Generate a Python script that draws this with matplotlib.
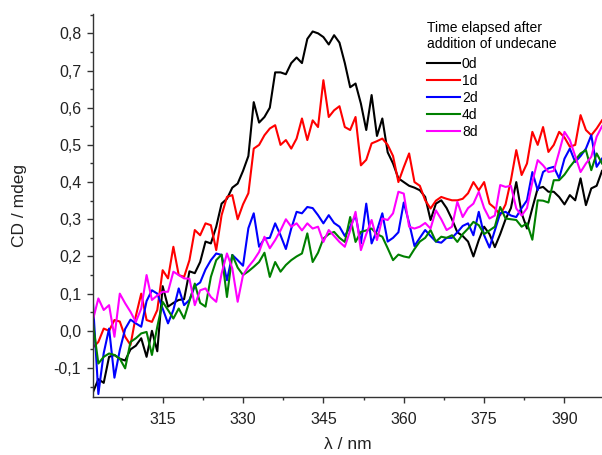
"""
CD spectra of the sample after addition of undecane, at several elapsed times.
"""

import numpy as np
import matplotlib.pyplot as plt
from matplotlib.ticker import MultipleLocator, FuncFormatter

# wavelength grid (nm), one point per nm
wavelength = np.arange(302, 398)

cd_0d = [
    -0.165, -0.13, -0.14, -0.07, -0.065, -0.075, -0.08, -0.05, -0.04, -0.02,
    -0.07, 0.0, -0.055, 0.12, 0.065, 0.075, 0.083, 0.085, 0.16, 0.155,
    0.185, 0.24, 0.235, 0.28, 0.342, 0.355, 0.385, 0.396, 0.43, 0.47,
    0.615, 0.56, 0.575, 0.6, 0.695, 0.695, 0.69, 0.72, 0.735, 0.72,
    0.785, 0.805, 0.80, 0.79, 0.77, 0.795, 0.775, 0.72, 0.655, 0.665,
    0.611, 0.54, 0.634, 0.524, 0.571, 0.48, 0.45, 0.41, 0.40, 0.39,
    0.385, 0.378, 0.36, 0.298, 0.342, 0.351, 0.33, 0.30, 0.265, 0.255,
    0.24, 0.2, 0.244, 0.28, 0.26, 0.225, 0.26, 0.3, 0.33, 0.4,
    0.316, 0.275, 0.33, 0.383, 0.387, 0.374, 0.374, 0.36, 0.34, 0.365,
    0.351, 0.41, 0.338, 0.383, 0.39, 0.43,
]
cd_1d = [
    -0.045, -0.03, 0.006, 0.0, 0.029, 0.025, -0.016, -0.038, 0.04, 0.1,
    0.029, 0.024, 0.056, 0.163, 0.141, 0.226, 0.15, 0.145, 0.19, 0.271,
    0.257, 0.289, 0.284, 0.217, 0.311, 0.36, 0.365, 0.30, 0.34, 0.37,
    0.49, 0.5, 0.526, 0.544, 0.553, 0.5, 0.513, 0.49, 0.517, 0.571,
    0.513, 0.566, 0.548, 0.674, 0.575, 0.593, 0.604, 0.548, 0.54, 0.575,
    0.445, 0.46, 0.504, 0.51, 0.517, 0.5, 0.47, 0.4, 0.44, 0.477,
    0.4, 0.39, 0.351, 0.329, 0.35, 0.36, 0.355, 0.351, 0.351, 0.355,
    0.37, 0.4, 0.378, 0.4, 0.342, 0.33, 0.311, 0.34, 0.405, 0.486,
    0.419, 0.45, 0.535, 0.5, 0.548, 0.481, 0.5, 0.535, 0.52, 0.495,
    0.5, 0.58, 0.54, 0.526, 0.544, 0.566,
]
cd_2d = [
    0.074, -0.17, -0.06, 0.006, -0.126, -0.052, 0.005, 0.03, 0.02, 0.011,
    0.08, 0.109, 0.1, 0.06, 0.02, 0.056, 0.114, 0.069, 0.083, 0.12,
    0.13, 0.165, 0.19, 0.208, 0.204, 0.136, 0.204, 0.19, 0.175, 0.276,
    0.316, 0.226, 0.248, 0.25, 0.289, 0.257, 0.22, 0.275, 0.32, 0.316,
    0.333, 0.33, 0.311, 0.289, 0.311, 0.29, 0.28, 0.255, 0.28, 0.311,
    0.235, 0.342, 0.235, 0.27, 0.316, 0.24, 0.25, 0.265, 0.345, 0.29,
    0.228, 0.25, 0.271, 0.255, 0.24, 0.237, 0.25, 0.25, 0.265, 0.282,
    0.289, 0.257, 0.32, 0.257, 0.224, 0.27, 0.316, 0.32, 0.31, 0.306,
    0.33, 0.351, 0.427, 0.378, 0.427, 0.437, 0.441, 0.41, 0.463, 0.49,
    0.454, 0.47, 0.49, 0.526, 0.441, 0.463,
]
cd_4d = [
    0.02, -0.088, -0.07, -0.061, -0.065, -0.075, -0.101, -0.03, -0.02, -0.007,
    -0.003, -0.065, 0.011, 0.078, 0.056, 0.033, 0.06, 0.033, 0.08, 0.127,
    0.075, 0.065, 0.145, 0.19, 0.205, 0.091, 0.204, 0.17, 0.15, 0.16,
    0.172, 0.185, 0.21, 0.145, 0.185, 0.159, 0.177, 0.19, 0.2, 0.208,
    0.262, 0.185, 0.21, 0.248, 0.26, 0.266, 0.25, 0.239, 0.306, 0.239,
    0.266, 0.27, 0.275, 0.26, 0.253, 0.222, 0.19, 0.205, 0.2, 0.197,
    0.22, 0.24, 0.25, 0.271, 0.24, 0.253, 0.25, 0.257, 0.239, 0.26,
    0.275, 0.293, 0.284, 0.26, 0.27, 0.28, 0.333, 0.302, 0.30, 0.298,
    0.28, 0.289, 0.245, 0.351, 0.35, 0.345, 0.405, 0.405, 0.42, 0.441,
    0.459, 0.477, 0.486, 0.432, 0.477, 0.45,
]
cd_8d = [
    0.03, 0.087, 0.056, 0.069, -0.016, 0.1, 0.074, 0.051, 0.024, 0.06,
    0.15, 0.083, 0.095, 0.105, 0.105, 0.159, 0.15, 0.141, 0.14, 0.069,
    0.109, 0.114, 0.091, 0.078, 0.154, 0.208, 0.168, 0.078, 0.15, 0.172,
    0.19, 0.212, 0.253, 0.222, 0.244, 0.27, 0.30, 0.28, 0.289, 0.27,
    0.289, 0.275, 0.28, 0.239, 0.271, 0.255, 0.239, 0.226, 0.27, 0.32,
    0.217, 0.26, 0.298, 0.244, 0.302, 0.298, 0.316, 0.374, 0.369, 0.28,
    0.275, 0.28, 0.29, 0.275, 0.324, 0.30, 0.271, 0.28, 0.347, 0.306,
    0.33, 0.342, 0.374, 0.33, 0.302, 0.31, 0.392, 0.387, 0.39, 0.329,
    0.31, 0.33, 0.40, 0.459, 0.445, 0.427, 0.43, 0.481, 0.535, 0.513,
    0.47, 0.427, 0.45, 0.468, 0.522, 0.55,
]

labels = ["0d", "1d", "2d", "4d", "8d"]
colors = ["#000000", "#ff0000", "#0000ff", "#008000", "#ff00ff"]
series = [cd_0d, cd_1d, cd_2d, cd_4d, cd_8d]

plt.rcParams["font.family"] = ["Liberation Sans", "DejaVu Sans"]

W, H = 602, 455
fig = plt.figure(figsize=(W / 100, H / 100), dpi=100)
# axes box in pixels: left 93, right 602, top 14, bottom 397
ax = fig.add_axes([93 / W, 1 - 397 / H, 1 - 93 / W, (397 - 14) / H])

for y, c, lab in zip(series, colors, labels):
    ax.plot(wavelength, y, color=c, lw=1.5, label=lab)

ax.set_xlim(302, 397)
ax.set_ylim(-0.178, 0.852)

ax.xaxis.set_major_locator(MultipleLocator(15))
ax.xaxis.set_minor_locator(MultipleLocator(7.5))
ax.yaxis.set_major_locator(MultipleLocator(0.1))
ax.yaxis.set_minor_locator(MultipleLocator(0.05))
ax.yaxis.set_major_formatter(FuncFormatter(lambda v, p: f"{round(v, 1) + 0:.1f}".replace(".", ",")))

for side in ["top", "right"]:
    ax.spines[side].set_visible(False)
for side in ["left", "bottom"]:
    ax.spines[side].set_color("#333333")
    ax.spines[side].set_linewidth(1.0)

ax.tick_params(which="major", direction="out", length=4.5, width=1.0, color="#333333",
               labelsize=11.5, labelcolor="#222222")
ax.tick_params(which="minor", direction="out", length=2.5, width=1.0, color="#333333")
ax.tick_params(axis="x", which="major", pad=6)
ax.tick_params(axis="y", which="major", pad=4)

ax.set_xlabel("λ / nm", fontsize=12.5, color="#222222")
ax.set_ylabel("CD / mdeg", fontsize=12.5, color="#222222")
ax.xaxis.set_label_coords(0.5, -(437 - 397) / (397 - 14), transform=ax.transAxes)
ax.yaxis.set_label_coords(-(93 - 27) / (W - 93), 0.5, transform=ax.transAxes)

leg = ax.legend(title="Time elapsed after\naddition of undecane", loc="upper left",
                bbox_to_anchor=(427 / W, 1 - 21 / H), bbox_transform=fig.transFigure,
                frameon=False, fontsize=10, title_fontsize=10, alignment="left",
                handlelength=2.37, handletextpad=0.15, labelspacing=0.22,
                borderpad=0, borderaxespad=0)
leg._legend_box.sep = 4

fig.savefig("out.png", dpi=100)
